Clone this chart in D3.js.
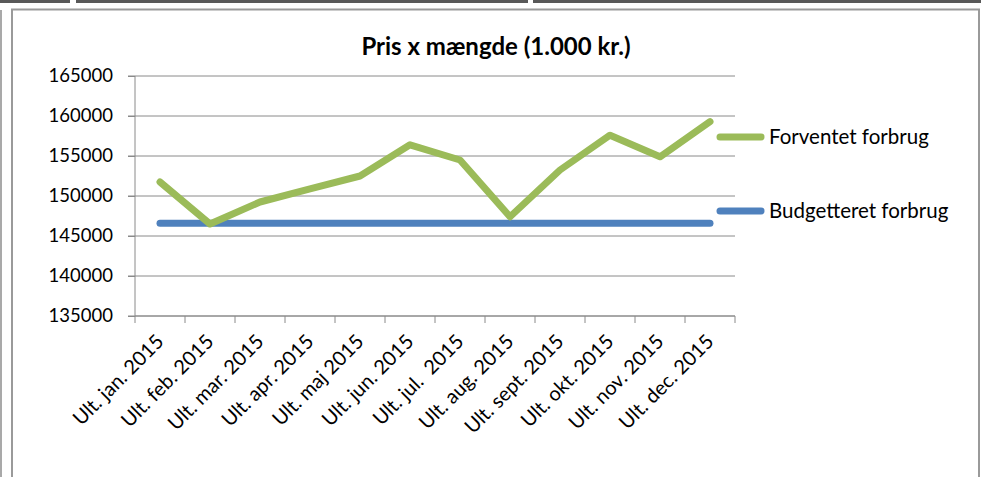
<!DOCTYPE html>
<html>
<head>
<meta charset="utf-8">
<script src="https://cdn.jsdelivr.net/npm/d3@7"></script>
<style>
  body { margin: 0; background: #fff; }
  svg { display: block; font-family: Lato, "Open Sans", sans-serif; }
</style>
</head>
<body>
<svg id="chart" width="981" height="477"></svg>
<script>
// chart data
var months = ["Ult. jan. 2015", "Ult. feb. 2015", "Ult. mar. 2015", "Ult. apr. 2015",
  "Ult. maj 2015", "Ult. jun. 2015", "Ult. jul.  2015", "Ult. aug. 2015",
  "Ult. sept. 2015", "Ult. okt. 2015", "Ult. nov. 2015", "Ult. dec. 2015"];
var forventet = [151750, 146500, 149250, 150900, 152500, 156400, 154500, 147400, 153250, 157600, 154900, 159300];
var budget = [146600, 146600, 146600, 146600, 146600, 146600, 146600, 146600, 146600, 146600, 146600, 146600];
var yTicks = [135000, 140000, 145000, 150000, 155000, 160000, 165000];
var seriesNames = ["Forventet forbrug", "Budgetteret forbrug"];
var seriesColors = ["#9bbb59", "#4f81bd"];

var svg = d3.select("#chart");

// surrounding frame bits from the screenshot
svg.selectAll("rect.topbar")
  .data([[0, 70], [76, 528], [533, 981]])
  .enter().append("rect")
  .attr("class", "topbar")
  .attr("x", function(d) { return d[0]; })
  .attr("y", 0)
  .attr("width", function(d) { return d[1] - d[0]; })
  .attr("height", 3)
  .attr("fill", "#595959");

svg.append("line")
  .attr("x1", 1).attr("x2", 1).attr("y1", 10).attr("y2", 477)
  .attr("stroke", "#8c8c8c").attr("stroke-width", 1.5);

svg.append("path")
  .attr("d", "M12,477V9.5H979V477")
  .attr("fill", "none")
  .attr("stroke", "#9a9a9a")
  .attr("stroke-width", 2);

var x = d3.scaleBand().domain(months).range([135, 735]);
var y = d3.scaleLinear().domain([135000, 165000]).range([316, 76]);

function cx(d, i) { return x(months[i]) + x.bandwidth() / 2; }

// grid
svg.append("g")
  .selectAll("line")
  .data(yTicks)
  .enter().append("line")
  .attr("x1", 128)
  .attr("x2", 735)
  .attr("y1", function(d) { return y(d); })
  .attr("y2", function(d) { return y(d); })
  .attr("stroke", "#8a8a8a")
  .attr("stroke-width", 1);

// y axis
var yAxis = svg.append("g")
  .attr("transform", "translate(135,0)")
  .call(d3.axisLeft(y).tickValues(yTicks).tickSize(7).tickPadding(15).tickFormat(d3.format("d")));
yAxis.select(".domain").attr("stroke", "#8a8a8a").attr("d", "M0,76V316");
yAxis.selectAll(".tick line").attr("stroke", "#8a8a8a");
yAxis.selectAll("text")
  .attr("fill", "#000")
  .style("font-size", "18.5px")
  .style("font-family", "Lato");

// x axis
var xAxis = svg.append("g")
  .attr("transform", "translate(0,316)")
  .call(d3.axisBottom(x).tickSize(0).tickFormat(""));
xAxis.select(".domain").attr("stroke", "#8a8a8a").attr("d", "M135,0H735");

svg.append("g")
  .selectAll("line")
  .data(d3.range(months.length + 1))
  .enter().append("line")
  .attr("x1", function(i) { return 135 + i * x.step(); })
  .attr("x2", function(i) { return 135 + i * x.step(); })
  .attr("y1", 316)
  .attr("y2", 323)
  .attr("stroke", "#8a8a8a");

svg.append("g")
  .selectAll("text")
  .data(months)
  .enter().append("text")
  .attr("transform", function(d) {
    return "translate(" + (x(d) + x.bandwidth() / 2 - 5) + ",333) rotate(-45)";
  })
  .attr("text-anchor", "end")
  .attr("dy", "0.7em")
  .style("font-size", "20px")
  .style("white-space", "pre")
  .attr("fill", "#000")
  .text(function(d) { return d; });

// lines
var line = d3.line()
  .x(cx)
  .y(function(d) { return y(d); });

svg.append("path")
  .datum(budget)
  .attr("d", line)
  .attr("fill", "none")
  .attr("stroke", seriesColors[1])
  .attr("stroke-width", 7)
  .attr("stroke-linecap", "round")
  .attr("stroke-linejoin", "round");

svg.append("path")
  .datum(forventet)
  .attr("d", line)
  .attr("fill", "none")
  .attr("stroke", seriesColors[0])
  .attr("stroke-width", 7)
  .attr("stroke-linecap", "round")
  .attr("stroke-linejoin", "round");

// title
svg.append("text")
  .attr("x", 496)
  .attr("y", 55)
  .attr("text-anchor", "middle")
  .style("font-size", "24px")
  .style("font-weight", "bold")
  .text("Pris x mængde (1.000 kr.)");

// legend
var legend = svg.append("g")
  .selectAll("g")
  .data(seriesNames)
  .enter().append("g")
  .attr("transform", function(d, i) { return "translate(718," + (137 + i * 74) + ")"; });

legend.append("line")
  .attr("x1", 2).attr("x2", 43)
  .attr("stroke", function(d, i) { return seriesColors[i]; })
  .attr("stroke-width", 7)
  .attr("stroke-linecap", "round");

legend.append("text")
  .attr("x", 51)
  .attr("dy", "0.36em")
  .style("font-size", "20.5px")
  .text(function(d) { return d; });
</script>
</body>
</html>
